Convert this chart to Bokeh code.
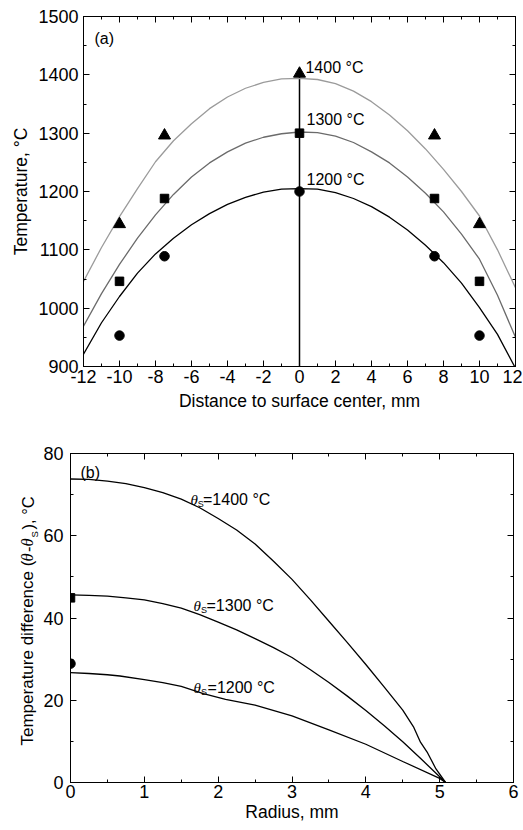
from bokeh.plotting import figure
from bokeh.models import Range1d, LinearAxis, SingleIntervalTicker, Label
from bokeh.layouts import column, row
from bokeh.embed import file_html
from bokeh.resources import INLINE

SANS = "Liberation Sans"
SERIF = "Liberation Serif"
TICK_FS = "18px"
AXIS_FS = "17.5px"
NOTE_FS = "16px"

# ---------------- panel (a) data ----------------
dist_mm = [-12, -11, -10, -9, -8, -7, -6, -5, -4, -3, -2, -1, 0,
           1, 2, 3, 4, 5, 6, 7, 8, 9, 10, 11, 12]
fit_1400 = [1046, 1104, 1157, 1205, 1251, 1287, 1316, 1342, 1362, 1377, 1387, 1393, 1394,
            1392, 1385, 1372, 1354, 1331, 1304, 1273, 1238, 1200, 1158, 1100, 1035]
fit_1300 = [969, 1025, 1075, 1120, 1160, 1195, 1225, 1249, 1268, 1283, 1293, 1299, 1302,
            1301, 1295, 1284, 1268, 1249, 1225, 1197, 1165, 1127, 1084, 1022, 950]
fit_1200 = [921, 975, 1020, 1060, 1093, 1120, 1143, 1162, 1178, 1190, 1199, 1204, 1205,
            1204, 1198, 1188, 1174, 1156, 1134, 1108, 1078, 1043, 1001, 955, 897]

meas_x = [-10, -7.5, 0, 7.5, 10]
meas_1400 = [1144, 1296, 1402, 1296, 1144]
meas_1300 = [1046, 1188, 1300, 1188, 1046]
meas_1200 = [953, 1089, 1200, 1089, 953]

center_x = [0, 0]
center_y = [900, 1400]

x_ticks_a = [-12, -10, -8, -6, -4, -2, 0, 2, 4, 6, 8, 10, 12]
x_tick_labels_a = ["-12", "-10", "-8", "-6", "-4", "-2", "0", "2", "4", "6", "8", "10", "12"]

labels_a = ["1400 °C", "1300 °C", "1200 °C"]
labels_a_x = [0.33, 0.39, 0.39]
labels_a_y = [1412, 1323, 1221]

# ---------------- panel (b) data ----------------
r_1400 = [0, 0.25, 0.5, 0.75, 1, 1.25, 1.5, 1.75, 2, 2.25, 2.5, 2.75, 3, 3.25, 3.5,
          3.75, 4, 4.25, 4.5, 4.65, 4.74, 4.83, 4.95, 5.08]
d_1400 = [73.8, 73.7, 73.3, 72.7, 71.7, 70.5, 68.9, 66.8, 64.2, 61.4, 58.0, 53.8, 49.4, 44.4, 39.2,
          34.0, 28.7, 23.2, 17.6, 13.4, 9.8, 7.4, 3.3, 0]
r_1300 = [0, 0.25, 0.5, 0.75, 1, 1.25, 1.5, 1.75, 2, 2.25, 2.5, 2.75, 3, 3.25, 3.5,
          3.75, 4, 4.25, 4.5, 4.75, 5, 5.08]
d_1300 = [45.6, 45.5, 45.3, 44.9, 44.4, 43.5, 42.4, 40.8, 39.0, 37.1, 35.0, 32.8, 30.4, 27.4, 24.3,
          21.0, 17.5, 13.8, 9.9, 5.7, 1.4, 0]
r_1200 = [0, 0.25, 0.5, 0.67, 1, 1.25, 1.5, 1.8, 2.1, 2.5, 3, 3.5, 4, 4.5, 5, 5.08]
d_1200 = [26.7, 26.5, 26.2, 25.9, 25.0, 24.3, 23.4, 21.6, 20.2, 18.8, 16.2, 12.8, 9.3, 5.1, 1.0, 0]

meas_b_r = [0, 0]
meas_b_d = [44.9, 28.9]

labels_b = ["=1400 °C", "=1300 °C", "=1200 °C"]
labels_b_theta_r = [1.625, 1.666, 1.666]
labels_b_r = [1.795, 1.842, 1.856]
labels_b_d = [68.8, 43.0, 23.1]

# pieces of the rotated y title of panel (b): text, font, style, size, position along / across
ytitle_parts = ["Temperature difference (", "θ", "-", "θ", "S", ")", ", °C"]
ytitle_fonts = [SANS, SERIF, SANS, SERIF, SANS, SANS, SANS]
ytitle_styles = ["normal", "italic", "normal", "italic", "normal", "normal", "normal"]
ytitle_sizes = ["17px", "16.5px", "16.5px", "16.5px", "9.5px", "16.5px", "16.5px"]
ytitle_pos = [745, 561, 551.5, 546, 537, 529, 523.5]
ytitle_base = [27, 27, 27, 27, 34, 27, 27]


def style_main_axes(p, xint, yint):
    for ax, interval in ((p.below[0], xint), (p.left[0], yint)):
        ax.ticker = SingleIntervalTicker(interval=interval, num_minor_ticks=2)
        ax.major_tick_in = 6
        ax.major_tick_out = 0
        ax.minor_tick_in = 3
        ax.minor_tick_out = 0
        ax.axis_line_color = "black"
        ax.major_tick_line_color = "black"
        ax.minor_tick_line_color = "black"
        ax.major_label_text_font = SANS
        ax.major_label_text_font_size = TICK_FS
        ax.major_label_text_color = "black"
        ax.axis_label_text_font = SANS
        ax.axis_label_text_font_size = AXIS_FS
        ax.axis_label_text_font_style = "normal"
        ax.axis_label_text_color = "black"
    for side, interval in (("above", xint), ("right", yint)):
        ax = LinearAxis(ticker=SingleIntervalTicker(interval=interval, num_minor_ticks=2),
                        major_tick_in=6, major_tick_out=0, minor_tick_in=3, minor_tick_out=0,
                        major_label_text_font_size="1px", major_label_text_color=None,
                        major_label_standoff=0, axis_line_color="black")
        p.add_layout(ax, side)
    p.xgrid.visible = False
    p.ygrid.visible = False
    p.outline_line_color = "black"
    p.outline_line_alpha = 1.0


def add_label(p, text, x, y, size=NOTE_FS, font=SANS, style="normal", angle=0):
    p.add_layout(Label(x=x, y=y, text=text, text_font=font, text_font_size=size,
                       text_font_style=style, text_color="black", angle=angle,
                       angle_units="deg", text_align="left", text_baseline="alphabetic"))


# ---------------- figure (a) ----------------
p1 = figure(width=522, height=430, output_backend="svg", toolbar_location=None,
            x_range=Range1d(-12, 12), y_range=Range1d(900, 1500),
            min_border_left=83, min_border_right=7, min_border_top=16, min_border_bottom=64,
            x_axis_label="Distance to surface center, mm", y_axis_label="Temperature, °C")
style_main_axes(p1, 2, 100)
p1.below[0].major_label_overrides = dict(zip(x_ticks_a, x_tick_labels_a))
p1.below[0].major_label_standoff = 3
p1.below[0].axis_label_standoff = 5
p1.left[0].major_label_standoff = 5
p1.left[0].axis_label_standoff = 4

p1.line(center_x, center_y, line_color="black", line_width=1.5)
p1.line(dist_mm, fit_1400, line_color="#9b9b9b", line_width=1.3)
p1.line(dist_mm, fit_1300, line_color="#6b6b6b", line_width=1.3)
p1.line(dist_mm, fit_1200, line_color="black", line_width=1.3)
p1.scatter(meas_x, meas_1400, marker="triangle", size=12, color="black")
p1.scatter(meas_x, meas_1300, marker="square", size=8.5, color="black")
p1.scatter(meas_x, meas_1200, marker="circle", size=9.5, color="black")

add_label(p1, "(a)", -11.39, 1462)
for t, x, y in zip(labels_a, labels_a_x, labels_a_y):
    add_label(p1, t, x, y)

# ---------------- figure (b) ----------------
B_TOP, B_BOTTOM = 23, 46
p2 = figure(width=482, height=398, output_backend="svg", toolbar_location=None,
            x_range=Range1d(0, 6), y_range=Range1d(0, 80),
            min_border_left=30, min_border_right=9, min_border_top=B_TOP, min_border_bottom=B_BOTTOM,
            x_axis_label="Radius, mm")
style_main_axes(p2, 1, 20)
p2.below[0].major_label_standoff = 2
p2.below[0].axis_label_standoff = 1
p2.left[0].major_label_standoff = 7

p2.line(r_1400, d_1400, line_color="black", line_width=1.3)
p2.line(r_1300, d_1300, line_color="black", line_width=1.3)
p2.line(r_1200, d_1200, line_color="black", line_width=1.3)
p2.scatter(meas_b_r[:1], meas_b_d[:1], marker="square", size=8.5, color="black")
p2.scatter(meas_b_r[1:], meas_b_d[1:], marker="circle", size=9.5, color="black")

add_label(p2, "(b)", 0.135, 75.4)
for t, xt, xs, y in zip(labels_b, labels_b_theta_r, labels_b_r, labels_b_d):
    add_label(p2, "θ", xt, y, size="15px", font=SERIF, style="italic")
    add_label(p2, "S", xt + 0.1, y - 1.0, size="9px")
    add_label(p2, t, xs, y)

# narrow strip left of panel (b) carrying its rotated y title; its frame matches panel (b)'s
# frame (page y 453..782), and its coordinates are page pixels
ptitle = figure(width=40, height=398, output_backend="svg", toolbar_location=None,
                x_range=Range1d(0, 40), y_range=Range1d(782, 453),
                x_axis_type=None, y_axis_type=None,
                min_border_left=0, min_border_right=0,
                min_border_top=B_TOP, min_border_bottom=B_BOTTOM)
ptitle.outline_line_color = None
for t, f, s, fs, pos, base in zip(ytitle_parts, ytitle_fonts, ytitle_styles, ytitle_sizes,
                                  ytitle_pos, ytitle_base):
    add_label(ptitle, t, base, pos, size=fs, font=f, style=s, angle=90)

layout = column(p1, row(ptitle, p2))
open("out.html", "w").write(file_html(layout, INLINE))
